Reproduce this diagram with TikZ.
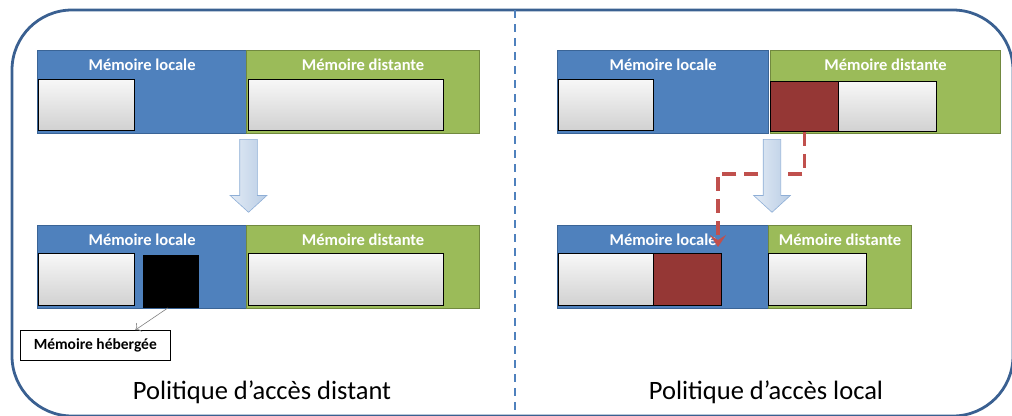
\documentclass[tikz,border=0pt]{standalone}
\usepackage{fontspec}
\setmainfont{Carlito}
\usepackage{tikz}
\usetikzlibrary{arrows.meta}
\usetikzlibrary{shapes.arrows}

\definecolor{locF}{HTML}{4F81BD}
\definecolor{locB}{HTML}{3A6496}
\definecolor{distF}{HTML}{9BBB59}
\definecolor{distB}{HTML}{71893F}
\definecolor{hotF}{HTML}{953735}
\definecolor{hotL}{HTML}{C0504D}
\definecolor{frameC}{HTML}{3A6091}
\definecolor{arrF}{HTML}{B9CDE5}
\definecolor{arrT}{HTML}{E3EBF5}
\definecolor{arrB}{HTML}{8EAED6}

\tikzset{
  loc/.style={draw=locB, fill=locF, line width=1.2pt, anchor=north west, inner sep=0pt, minimum height=83pt},
  dist/.style={draw=distB, fill=distF, line width=1.2pt, anchor=north west, inner sep=0pt, minimum height=83pt},
  cell/.style={draw=black, line width=0.9pt, top color=gray!6, bottom color=gray!36, anchor=north west, inner sep=0pt},
  hot/.style={draw=black, line width=0.9pt, fill=hotF, anchor=north west, inner sep=0pt},
  lbl/.style={text=white, font=\bfseries\fontsize{16.5}{19}\selectfont},
  title/.style={font=\fontsize{26.5}{30}\selectfont},
  movearrow/.style={single arrow, draw=arrB, line width=0.6pt, left color=arrT, right color=arrF,
    rotate=-90, anchor=tail, inner xsep=0pt, inner ysep=8.5pt, minimum width=36pt,
    minimum height=73pt, single arrow head extend=9.5pt, single arrow tip angle=95},
}

\begin{document}
\begin{tikzpicture}[x=1pt, y=-1pt]
            \useasboundingbox (0,0) rectangle (1012,415);
            % Frame
            \draw[frameC, line width=2.8pt, rounded corners=60pt] (12,10) rectangle (1013,416);
            \draw[locF, line width=2.4pt, dash pattern=on 8pt off 6pt] (515,10) -- (515,415);

            % Nodes (left)
            \node[loc, minimum width=209pt] (loc1) at (37,50) {};
            \node[dist, minimum width=233pt] (dist1) at (246,50) {};
            \node[lbl] (tl1) at ([yshift=-15pt]loc1.north) {Mémoire locale};
            \node[lbl] (td1) at ([yshift=-15pt]dist1.north) {Mémoire distante};
            \node[cell, minimum width=96pt, minimum height=51pt] (c1) at (38,79) {};
            \node[cell, minimum width=195pt, minimum height=51pt] (c2) at (248,79) {};

            \node[loc, minimum width=209pt] (loc2) at (37,225) {};
            \node[dist, minimum width=233pt] (dist2) at (246,225) {};
            \node[lbl] (tl2) at ([yshift=-15pt]loc2.north) {Mémoire locale};
            \node[lbl] (td2) at ([yshift=-15pt]dist2.north) {Mémoire distante};
            \node[cell, minimum width=96pt, minimum height=52pt] (c3) at (38,253) {};
            \node[hot, fill=black, minimum width=55pt, minimum height=52pt] (blk) at (143,255) {};
            \node[cell, minimum width=195pt, minimum height=52pt] (c4) at (248,253) {};

            \node[draw, anchor=north west, fill=white, line width=0.6pt, minimum width=150pt, minimum height=30pt,
              inner sep=0pt, font=\bfseries\fontsize{15.5}{18}\selectfont] (cal) at (20,330) {Mémoire hébergée};
            \node[movearrow] (arr1) at (248.5,139) {};
            \node[title] (pol1) at (262,392) {Politique d’accès distant};

            % Nodes (right)
            \node[loc, minimum width=211pt] (loc3) at (557,50) {};
            \node[dist, minimum width=230pt] (dist3) at (770,50) {};
            \node[lbl] (tl3) at ([yshift=-15pt]loc3.north) {Mémoire locale};
            \node[lbl] (td3) at ([yshift=-15pt]dist3.north) {Mémoire distante};
            \node[cell, minimum width=95pt, minimum height=51pt] (c5) at (558,79) {};
            \node[hot, minimum width=68pt, minimum height=50pt] (r1) at (770,81) {};
            \node[cell, minimum width=98pt, minimum height=50pt] (c6) at (838,81) {};

            \node[loc, minimum width=211pt] (loc4) at (557,225) {};
            \node[dist, minimum width=143pt] (dist4) at (768,225) {};
            \node[lbl] (tl4) at ([yshift=-15pt]loc4.north) {Mémoire locale};
            \node[lbl] (td4) at ([yshift=-15pt]dist4.north) {Mémoire distante};
            \node[cell, minimum width=95pt, minimum height=52pt] (c7) at (558,253) {};
            \node[hot, minimum width=68pt, minimum height=52pt] (r2) at (653,253) {};
            \node[cell, minimum width=98pt, minimum height=52pt] (c8) at (768,253) {};
            \node[title] (pol2) at (766,392) {Politique d’accès local};

            % Lines
            \draw[gray, line width=0.6pt, -{To[length=5pt]}] ([xshift=-3pt]blk.south) -- ([xshift=40pt]cal.north);
            \coordinate (drop) at (718,247);
            \draw[hotL, line width=3.6pt, dash pattern=on 14pt off 8pt, -{Stealth[length=12pt, width=16pt, inset=5pt]}]
              (r1.south) -- ++(0,42) -| (drop);
            \node[movearrow] (arr2) at (772,139) {};
        \end{tikzpicture}
\end{document}
